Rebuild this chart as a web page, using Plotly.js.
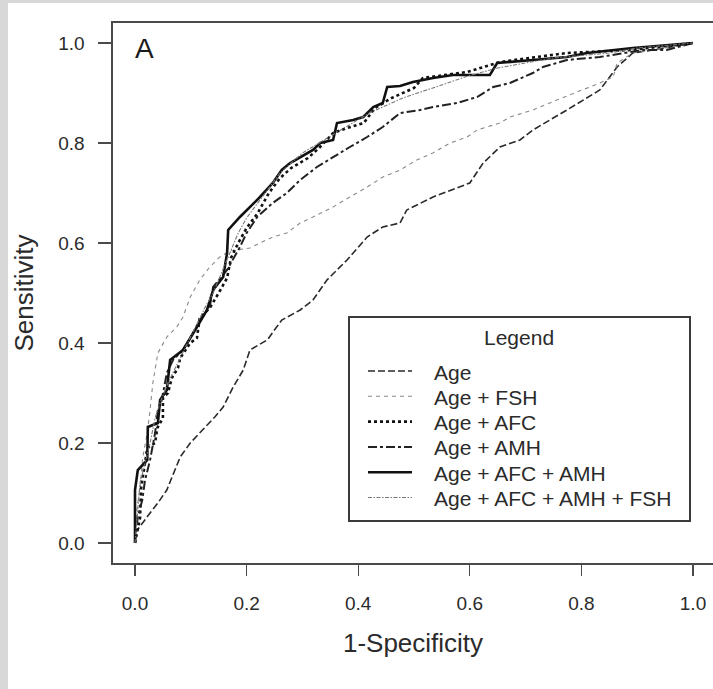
<!DOCTYPE html>
<html>
<head>
<meta charset="utf-8">
<script src="https://cdn.plot.ly/plotly-3.0.1.min.js"></script>
<style>html,body{margin:0;padding:0;background:#fff;}#chart{width:713px;height:689px;}</style>
</head>
<body>
<div id="chart"></div>
<script>
// ---- Data ----
const seriesNames = ["Age", "Age + FSH", "Age + AFC", "Age + AMH", "Age + AFC + AMH", "Age + AFC + AMH + FSH"];

const ageX = [0, 0, 0.027, 0.041, 0.057, 0.081, 0.099, 0.116, 0.143, 0.158, 0.176, 0.194, 0.206, 0.237, 0.263, 0.296, 0.319, 0.344, 0.380, 0.416, 0.444, 0.475, 0.487, 0.534, 0.600, 0.624, 0.654, 0.690, 0.713, 0.774, 0.833, 0.864, 0.892, 0.928, 1];
const ageY = [0, 0.02, 0.06, 0.08, 0.106, 0.172, 0.2, 0.22, 0.252, 0.272, 0.312, 0.346, 0.386, 0.406, 0.446, 0.466, 0.486, 0.526, 0.566, 0.612, 0.632, 0.64, 0.666, 0.692, 0.72, 0.76, 0.792, 0.806, 0.826, 0.866, 0.906, 0.952, 0.98, 0.986, 1];

const fshX = [0, 0, 0.004, 0.009, 0.014, 0.022, 0.027, 0.032, 0.041, 0.057, 0.075, 0.086, 0.099, 0.116, 0.134, 0.152, 0.170, 0.206, 0.224, 0.247, 0.272, 0.296, 0.319, 0.355, 0.385, 0.416, 0.444, 0.475, 0.505, 0.534, 0.565, 0.595, 0.613, 0.654, 0.672, 0.713, 0.756, 0.803, 0.833, 0.857, 0.864, 0.892, 0.928, 1];
const fshY = [0, 0.02, 0.072, 0.112, 0.172, 0.22, 0.266, 0.32, 0.38, 0.412, 0.432, 0.452, 0.492, 0.526, 0.552, 0.572, 0.584, 0.59, 0.60, 0.612, 0.62, 0.64, 0.652, 0.672, 0.692, 0.712, 0.732, 0.746, 0.766, 0.78, 0.80, 0.812, 0.826, 0.84, 0.852, 0.866, 0.886, 0.906, 0.92, 0.932, 0.96, 0.98, 0.986, 1];

const afcX = [0, 0.009, 0.011, 0.016, 0.022, 0.036, 0.040, 0.050, 0.050, 0.059, 0.066, 0.077, 0.081, 0.099, 0.111, 0.116, 0.134, 0.150, 0.165, 0.172, 0.185, 0.200, 0.220, 0.240, 0.260, 0.280, 0.310, 0.330, 0.355, 0.380, 0.410, 0.430, 0.460, 0.500, 0.516, 0.595, 0.654, 0.720, 0.774, 0.850, 0.890, 0.920, 1];
const afcY = [0, 0.05, 0.11, 0.15, 0.19, 0.20, 0.23, 0.25, 0.29, 0.30, 0.33, 0.35, 0.37, 0.40, 0.41, 0.45, 0.47, 0.50, 0.53, 0.57, 0.60, 0.63, 0.66, 0.70, 0.73, 0.75, 0.77, 0.79, 0.82, 0.83, 0.84, 0.87, 0.89, 0.91, 0.93, 0.942, 0.962, 0.972, 0.98, 0.984, 0.986, 0.99, 1];

const amhX = [0, 0.005, 0.013, 0.018, 0.027, 0.032, 0.036, 0.041, 0.048, 0.057, 0.068, 0.086, 0.104, 0.116, 0.134, 0.140, 0.165, 0.188, 0.200, 0.219, 0.247, 0.272, 0.296, 0.326, 0.355, 0.385, 0.416, 0.444, 0.475, 0.511, 0.534, 0.577, 0.613, 0.642, 0.672, 0.713, 0.731, 0.774, 0.833, 0.882, 0.910, 0.953, 1];
const amhY = [0, 0.052, 0.086, 0.126, 0.166, 0.20, 0.22, 0.266, 0.286, 0.34, 0.366, 0.386, 0.42, 0.446, 0.472, 0.512, 0.546, 0.592, 0.62, 0.652, 0.68, 0.70, 0.726, 0.752, 0.772, 0.792, 0.812, 0.832, 0.86, 0.866, 0.872, 0.88, 0.892, 0.912, 0.92, 0.94, 0.952, 0.966, 0.972, 0.98, 0.986, 0.986, 1];

const afcAmhX = [0, 0, 0.005, 0.022, 0.023, 0.041, 0.045, 0.057, 0.063, 0.086, 0.111, 0.129, 0.140, 0.158, 0.165, 0.167, 0.188, 0.206, 0.224, 0.247, 0.263, 0.278, 0.296, 0.319, 0.332, 0.355, 0.362, 0.391, 0.409, 0.427, 0.444, 0.452, 0.475, 0.498, 0.534, 0.570, 0.636, 0.649, 0.713, 0.774, 0.810, 0.892, 1];
const afcAmhY = [0, 0.106, 0.146, 0.166, 0.232, 0.24, 0.286, 0.306, 0.366, 0.386, 0.432, 0.466, 0.506, 0.532, 0.58, 0.626, 0.652, 0.672, 0.692, 0.72, 0.746, 0.76, 0.772, 0.786, 0.80, 0.806, 0.84, 0.846, 0.852, 0.872, 0.88, 0.912, 0.914, 0.922, 0.93, 0.936, 0.936, 0.96, 0.966, 0.972, 0.98, 0.99, 1];

const allX = [0, 0.004, 0.009, 0.018, 0.027, 0.036, 0.045, 0.059, 0.072, 0.090, 0.108, 0.125, 0.140, 0.155, 0.170, 0.185, 0.200, 0.220, 0.240, 0.260, 0.280, 0.300, 0.330, 0.360, 0.390, 0.420, 0.450, 0.480, 0.520, 0.560, 0.600, 0.650, 0.700, 0.750, 0.800, 0.850, 0.900, 0.950, 1];
const allY = [0, 0.06, 0.12, 0.16, 0.20, 0.25, 0.28, 0.32, 0.35, 0.39, 0.43, 0.47, 0.50, 0.54, 0.58, 0.62, 0.65, 0.68, 0.71, 0.74, 0.76, 0.78, 0.80, 0.82, 0.84, 0.86, 0.875, 0.89, 0.905, 0.92, 0.935, 0.95, 0.96, 0.97, 0.975, 0.98, 0.99, 0.995, 1];

const xTickVals = [0, 0.2, 0.4, 0.6, 0.8, 1.0];
const xTickText = ["0.0", "0.2", "0.4", "0.6", "0.8", "1.0"];
const yTickVals = [0, 0.2, 0.4, 0.6, 0.8, 1.0];
const yTickText = ["0.0", "0.2", "0.4", "0.6", "0.8", "1.0"];
const legendTitle = "Legend";
const panelLabel = "A";

// ---- Styles ----
const FONT = "'Liberation Sans', Arial, Helvetica, sans-serif";
const TXT = "#2b2b2b";
const styles = [
  {color: "#2a2a2a", width: 1.6, dash: "7px,3px"},
  {color: "#8a8a8a", width: 1.1, dash: "4px,4px"},
  {color: "#111111", width: 2.6, dash: "3px,3px"},
  {color: "#222222", width: 2.0, dash: "9px,3px,3px,3px"},
  {color: "#111111", width: 2.6, dash: "solid"},
  {color: "#777777", width: 1.1, dash: "4px,1.5px,1.5px,1.5px"}
];
const xs = [ageX, fshX, afcX, amhX, afcAmhX, allX];
const ys = [ageY, fshY, afcY, amhY, afcAmhY, allY];

const traces = seriesNames.map((n, i) => ({
  type: "scatter", mode: "lines", name: n,
  x: xs[i], y: ys[i],
  line: {color: styles[i].color, width: styles[i].width, dash: styles[i].dash, shape: "linear"},
  hoverinfo: "skip", showlegend: false
}));

// ---- Frame geometry (pixels -> paper) ----
const W = 713, H = 689, ML = 113, MR = 0, MT = 23, MB = 126;
const PW = W - ML - MR, PH = H - MT - MB;
const px = x => (x - ML) / PW;
const py = y => (H - MB - y) / PH;

// Legend box (R-style legend)
const LG = {left: 349, right: 690, top: 317, bottom: 521, titleY: 337, firstY: 371, rowH: 25.3,
            lineX0: 368, lineX1: 412, textX: 432};

const shapes = [
  {type: "rect", xref: "paper", yref: "paper", x0: px(0), x1: px(8), y0: py(H), y1: py(0), fillcolor: "#d8d8d8", line: {width: 0}, layer: "below"},
  {type: "rect", xref: "paper", yref: "paper", x0: px(0), x1: px(W), y0: py(3), y1: py(0), fillcolor: "#d8d8d8", line: {width: 0}, layer: "below"},
  {type: "rect", xref: "paper", yref: "paper", x0: px(LG.left), x1: px(LG.right), y0: py(LG.bottom), y1: py(LG.top),
   fillcolor: "#ffffff", line: {color: "#3a3a3a", width: 2}, layer: "above"}
];
const annotations = [
  {text: panelLabel, xref: "paper", yref: "paper", x: px(144), y: py(48.5), xanchor: "center", yanchor: "middle",
   showarrow: false, font: {family: FONT, size: 28, color: "#1a1a1a"}},
  {text: legendTitle, xref: "paper", yref: "paper", x: px((LG.left + LG.right) / 2 - 1), y: py(LG.titleY), xanchor: "center", yanchor: "middle",
   showarrow: false, font: {family: FONT, size: 21, color: TXT}}
];
seriesNames.forEach((n, i) => {
  const yy = LG.firstY + i * LG.rowH;
  shapes.push({type: "line", xref: "paper", yref: "paper", x0: px(LG.lineX0), x1: px(LG.lineX1), y0: py(yy), y1: py(yy),
               line: {color: styles[i].color, width: styles[i].width, dash: styles[i].dash}, layer: "above"});
  annotations.push({text: n, xref: "paper", yref: "paper", x: px(LG.textX), y: py(yy + 1), xanchor: "left", yanchor: "middle",
                    showarrow: false, font: {family: FONT, size: 21, color: TXT}});
});

const layout = {
  width: W, height: H,
  margin: {l: ML, r: MR, t: MT, b: MB, pad: 0},
  paper_bgcolor: "#ffffff", plot_bgcolor: "#ffffff",
  font: {family: FONT, color: TXT},
  showlegend: false,
  xaxis: {
    range: [-0.03943, 1.03584], tickvals: xTickVals, ticktext: xTickText,
    showgrid: false, zeroline: false,
    showline: true, mirror: true, linecolor: "#4a4a4a", linewidth: 1.6,
    ticks: "outside", ticklen: 11, tickwidth: 1.4, tickcolor: "#4a4a4a",
    tickfont: {family: FONT, size: 19, color: TXT},
    ticklabelstandoff: 12,
    title: {text: "1-Specificity", font: {family: FONT, size: 26, color: TXT}, standoff: 20},
    fixedrange: true
  },
  yaxis: {
    range: [-0.04, 1.04], tickvals: yTickVals, ticktext: yTickText,
    showgrid: false, zeroline: false,
    showline: true, mirror: false, linecolor: "#4a4a4a", linewidth: 1.6,
    ticks: "outside", ticklen: 13, tickwidth: 1.4, tickcolor: "#4a4a4a",
    tickfont: {family: FONT, size: 19, color: TXT},
    ticklabelstandoff: 10,
    title: {text: "Sensitivity", font: {family: FONT, size: 26, color: TXT}, standoff: 17},
    fixedrange: true
  },
  annotations: annotations,
  shapes: shapes
};

Plotly.newPlot("chart", traces, layout, {displayModeBar: false, staticPlot: true});
</script>
</body>
</html>
